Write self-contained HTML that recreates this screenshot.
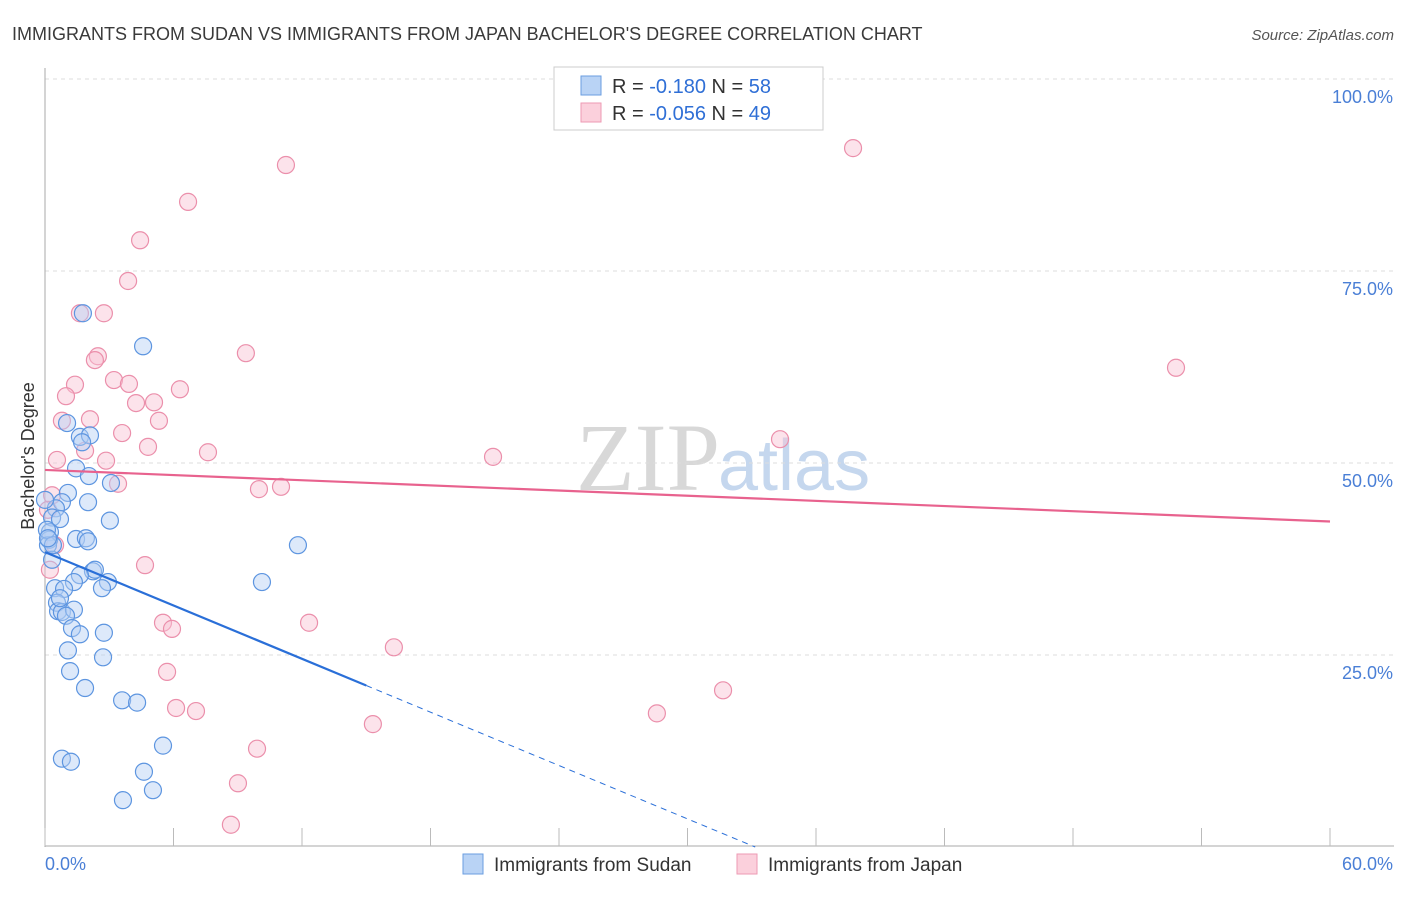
<!DOCTYPE html>
<html><head><meta charset="utf-8"><style>
body{margin:0;background:#fff;font-family:"Liberation Sans",sans-serif}
</style></head><body>
<svg id="c" width="1406" height="892" xmlns="http://www.w3.org/2000/svg" font-family="Liberation Sans, sans-serif">
<text x="12" y="40" font-size="18" fill="#3a3a3a">IMMIGRANTS FROM SUDAN VS IMMIGRANTS FROM JAPAN BACHELOR'S DEGREE CORRELATION CHART</text>
<text x="1394" y="40" font-size="15" fill="#555" text-anchor="end" font-style="italic">Source: ZipAtlas.com</text>
<text x="720" y="490" font-size="96" fill="#d8d8d8" text-anchor="end" font-family="Liberation Serif, serif">ZIP</text>
<text x="718" y="490" font-size="72" fill="#c5d7ee">atlas</text>
<text transform="translate(34,456) rotate(-90)" font-size="18" fill="#333" text-anchor="middle">Bachelor's Degree</text>
<g id="grid"></g><g id="pts"></g><g id="lines"></g>
<g>
<rect x="554" y="67" width="269" height="63" fill="#fff" stroke="#ccc"/>
<rect x="581" y="76" width="20" height="19" fill="#b9d3f5" stroke="#6a9ee0"/>
<rect x="581" y="103" width="20" height="19" fill="#fbd0dc" stroke="#ee9ab3"/>
<text x="612" y="93" font-size="20" fill="#333">R = <tspan fill="#2f6fd6">-0.180</tspan>   N = <tspan fill="#2f6fd6">58</tspan></text>
<text x="612" y="120" font-size="20" fill="#333">R = <tspan fill="#2f6fd6">-0.056</tspan>   N = <tspan fill="#2f6fd6">49</tspan></text>
</g>
<g>
<rect x="463" y="854" width="20" height="20" fill="#b9d3f5" stroke="#6a9ee0"/>
<text x="494" y="871" font-size="19" fill="#333">Immigrants from Sudan</text>
<rect x="737" y="854" width="20" height="20" fill="#fbd0dc" stroke="#ee9ab3"/>
<text x="768" y="871" font-size="19" fill="#333">Immigrants from Japan</text>
</g>
</svg>
<script>
const sudanX=[1.77,4.58,1.03,1.63,2.10,1.73,1.45,2.05,1.07,0.79,0.51,2.01,0.33,0.70,3.08,3.03,0.23,0.19,1.45,1.91,2.01,0.14,0.33,11.81,10.13,2.24,2.33,1.63,1.35,2.94,2.66,0.47,0.89,0.56,0.61,0.79,1.35,0.98,1.26,1.63,2.75,1.07,2.71,1.17,1.87,3.60,4.30,5.51,0.79,1.21,4.62,5.04,3.64,0,0.09,0.37,0.70,0.14];
const sudanY=[69.5,65.2,55.2,53.4,53.6,52.7,49.3,48.3,46.1,44.9,44.1,44.9,42.9,42.7,47.4,42.5,41.0,40.0,40.1,40.2,39.8,39.3,37.4,39.3,34.5,35.9,36.1,35.4,34.5,34.5,33.7,33.7,33.6,31.8,30.7,30.6,30.9,30.1,28.5,27.7,27.9,25.6,24.7,22.9,20.7,19.1,18.8,13.2,11.5,11.1,9.8,7.4,6.1,45.2,41.3,39.3,32.4,40.2];
const japanX=[11.25,37.73,6.68,4.44,3.88,1.63,2.75,2.47,2.33,9.38,52.81,1.40,3.22,3.92,6.30,0.98,4.25,5.09,0.79,2.10,5.32,3.60,4.81,34.32,1.87,7.61,0.56,2.85,20.92,3.41,9.99,11.02,0.33,0.14,0.47,4.67,0.23,5.51,5.93,12.33,16.29,5.70,6.12,7.05,31.66,28.57,15.31,9.90,9.01,8.68];
const japanY=[88.8,91.0,84.0,79.0,73.7,69.5,69.5,63.9,63.4,64.3,62.4,60.2,60.8,60.3,59.6,58.7,57.8,57.9,55.5,55.7,55.5,53.9,52.1,53.1,51.6,51.4,50.4,50.3,50.8,47.3,46.6,46.9,45.8,43.9,39.3,36.7,36.1,29.2,28.4,29.2,26.0,22.8,18.1,17.7,20.4,17.4,16.0,12.8,8.3,2.9];
const yTicks=[100,75,50,25];
const yTickLabels=["100.0%","75.0%","50.0%","25.0%"];
const xTickLabels=["0.0%","60.0%"];
const sudanTrend=[38.4,-1.158];   // intercept, slope
const japanTrend=[49.1,-0.112];
const NS="http://www.w3.org/2000/svg";
const sx=v=>45+v/60*1285, sy=v=>847-v/100*768;
function mk(t,a,p){const e=document.createElementNS(NS,t);for(const k in a)e.setAttribute(k,a[k]);p.appendChild(e);return e;}
const svg=document.getElementById('c'),grid=document.getElementById('grid'),pts=document.getElementById('pts'),lines=document.getElementById('lines');
yTicks.forEach((v,i)=>{
 const l=mk('line',{x1:45,x2:1394,y1:sy(v),y2:sy(v),stroke:'#ddd','stroke-dasharray':'4,4'},grid);
 
 
 const t=mk('text',{x:1393,y:sy(v)+24,'font-size':18,fill:'#4a7fd6','text-anchor':'end'},grid);
 t.textContent=yTickLabels[i];
 
 
});
mk('line',{x1:45,x2:45,y1:68,y2:847,stroke:'#aaa'},grid);
const ax=mk('line',{x1:45,x2:1394,y1:846,y2:846,stroke:'#aaa'},grid);


for(let i=0;i<=10;i++){mk('line',{x1:sx(i*6),x2:sx(i*6),y1:828,y2:846,stroke:'#bbb'},grid);}
[[0,45,'start'],[60,1393,'end']].forEach((d,i)=>{
 const t=mk('text',{x:d[1],y:870,'font-size':18,fill:'#4a7fd6','text-anchor':d[2]},grid);
 t.textContent=xTickLabels[i];
 
 
});
function dots(X,Y,fill,stroke,name){X.forEach((x,i)=>{
 const c=mk('circle',{cx:sx(x),cy:sy(Y[i]),r:8.5,fill:fill,'fill-opacity':0.45,stroke:stroke,'stroke-width':1.2},pts);
 
 
});}
dots(japanX,japanY,'#f9c2d2','#eb8fab','japan-point');
dots(sudanX,sudanY,'#b3cff3','#5d95e0','sudan-point');
const jl=mk('line',{x1:sx(0),y1:sy(japanTrend[0]),x2:sx(60),y2:sy(japanTrend[0]+japanTrend[1]*60),stroke:'#e8628e','stroke-width':2.2},lines);


const sl=mk('line',{x1:sx(0),y1:sy(sudanTrend[0]),x2:sx(15),y2:sy(sudanTrend[0]+sudanTrend[1]*15),stroke:'#2a6fd8','stroke-width':2.2},lines);


const xe=-sudanTrend[0]/sudanTrend[1];
const sd=mk('line',{x1:sx(15),y1:sy(sudanTrend[0]+sudanTrend[1]*15),x2:sx(xe),y2:sy(0),stroke:'#2a6fd8','stroke-width':1,'stroke-dasharray':'6,5'},lines);


</script>
</body></html>
